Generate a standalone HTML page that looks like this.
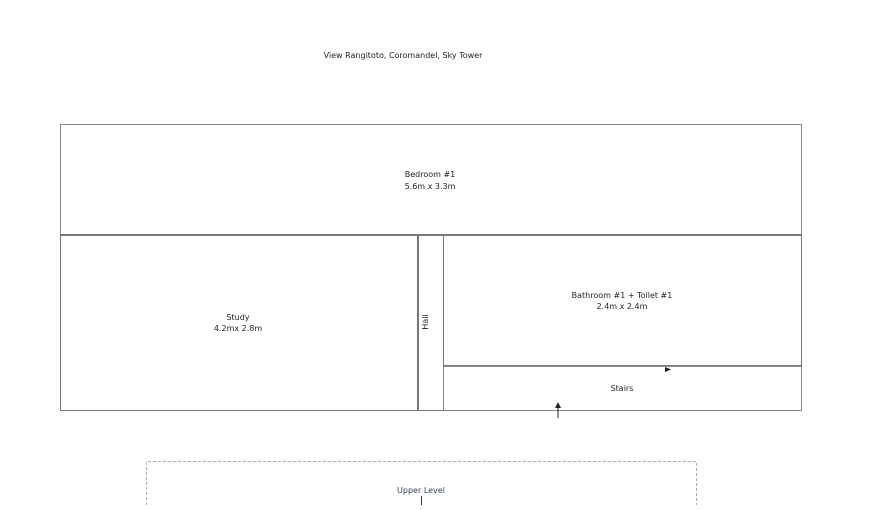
<!DOCTYPE html>
<html><head><style>
body{margin:0;background:#fff;}
svg text{font-family:"DejaVu Sans","Liberation Sans",sans-serif;font-size:8px;fill:#222;}
</style></head><body>
<svg width="880" height="505" viewBox="0 0 880 505" xmlns="http://www.w3.org/2000/svg">
<text x="403" y="58" text-anchor="middle">View Rangitoto, Coromandel, Sky Tower</text>
<rect x="60.5" y="124.5" width="741" height="111" fill="none" stroke="#888" stroke-width="1"/>
<line x1="60" y1="235" x2="802" y2="235" stroke="#555" stroke-width="1.5"/>
<rect x="60.5" y="235.5" width="357" height="175" fill="none" stroke="#777"/>
<rect x="418.5" y="235.5" width="25" height="175" fill="none" stroke="#777"/>
<rect x="443.5" y="235.5" width="358" height="131" fill="none" stroke="#777"/>
<line x1="443" y1="366" x2="802" y2="366" stroke="#555" stroke-width="1.5"/>
<rect x="443.5" y="366.5" width="358" height="44" fill="none" stroke="#888"/>
<text x="430" y="177" text-anchor="middle">Bedroom #1</text>
<text x="430" y="189" text-anchor="middle">5.6m x 3.3m</text>
<text x="238" y="320" text-anchor="middle">Study</text>
<text x="238" y="331" text-anchor="middle">4.2mx 2.8m</text>
<text x="0" y="0" text-anchor="middle" transform="translate(428,322) rotate(-90)">Hall</text>
<text x="622" y="298" text-anchor="middle">Bathroom #1 + Toilet #1</text>
<text x="622" y="309" text-anchor="middle">2.4m x 2.4m</text>
<text x="622" y="391" text-anchor="middle">Stairs</text>
<polygon points="665,367 671,369.5 665,372" fill="#222"/>
<line x1="558" y1="418" x2="558" y2="407" stroke="#222"/>
<polygon points="555,408 558,402 561,408" fill="#222"/>
<path d="M146.5 505 V461.5 H696.5 V505" fill="none" stroke="#aaa" stroke-dasharray="3,2"/>
<text x="421" y="493" text-anchor="middle" style="fill:#345">Upper Level</text>
<line x1="421.5" y1="496" x2="421.5" y2="505" stroke="#333"/>
</svg>
</body></html>
